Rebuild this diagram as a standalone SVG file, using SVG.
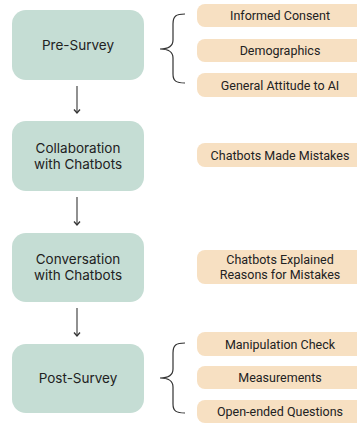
<svg xmlns="http://www.w3.org/2000/svg" width="357" height="425" viewBox="0 0 357 425">
<defs>
<style>
.step{fill:#c5ddd4}
.item{fill:#f7e0c2}
.st{font-family:Inter,"Liberation Sans",sans-serif;font-size:13.5px;fill:#222;text-anchor:middle}
.it{font-family:Roboto,"Liberation Sans",sans-serif;font-size:12.5px;fill:#222;text-anchor:middle}
.arr{stroke:#555;stroke-width:1.3;fill:none}
.brace{stroke:#333;stroke-width:1.2;fill:none}
</style>
<marker id="ah" markerWidth="8" markerHeight="8" refX="6" refY="4" orient="auto" markerUnits="userSpaceOnUse" viewBox="0 0 8 8">
<path d="M2.5,1 L6,4 L2.5,7" stroke="#333" stroke-width="1.3" fill="none"/>
</marker>
</defs>
<rect width="357" height="425" fill="#ffffff"/>
<g id="connectors">
<line class="arr" x1="77" y1="86" x2="77" y2="113" marker-end="url(#ah)"/>
<line class="arr" x1="77" y1="197" x2="77" y2="225" marker-end="url(#ah)"/>
<line class="arr" x1="77" y1="308" x2="77" y2="336" marker-end="url(#ah)"/>
</g>
<g id="pre-survey">
<rect class="step" x="12" y="10" width="132" height="70" rx="14"/>
<text class="st" x="78" y="50">Pre-Survey</text>
</g>
<g id="collaboration">
<rect class="step" x="12" y="121" width="132" height="70" rx="14"/>
<text class="st" x="78" y="153">Collaboration</text>
<text class="st" x="78" y="169">with Chatbots</text>
</g>
<g id="conversation">
<rect class="step" x="12" y="233" width="132" height="69" rx="14"/>
<text class="st" x="78" y="264">Conversation</text>
<text class="st" x="78" y="280">with Chatbots</text>
</g>
<g id="post-survey">
<rect class="step" x="12" y="344" width="132" height="69" rx="14"/>
<text class="st" x="78" y="383">Post-Survey</text>
</g>
<g id="pre-brace">
<path class="brace" d="M185,14 C176,14 173,16 173,24 L173,40 C173,46 168,49 160,49 C168,49 173,52 173,58 L173,74 C173,81 176,83 185,83"/>
</g>
<g id="post-brace">
<path class="brace" d="M185,343 C176,343 173,345 173,353 L173,369 C173,375 168,378 160,378 C168,378 173,381 173,387 L173,404 C173,411 176,413 185,413"/>
</g>
<g id="informed-consent">
<rect class="item" x="197" y="4" width="175" height="23" rx="8"/>
<text class="it" x="280" y="20">Informed Consent</text>
</g>
<g id="demographics">
<rect class="item" x="197" y="39" width="175" height="23" rx="8"/>
<text class="it" x="280" y="55">Demographics</text>
</g>
<g id="general-attitude">
<rect class="item" x="197" y="73" width="175" height="24" rx="8"/>
<text class="it" x="280" y="89.5">General Attitude to AI</text>
</g>
<g id="made-mistakes">
<rect class="item" x="197" y="143" width="175" height="24" rx="8"/>
<text class="it" x="280" y="159.5">Chatbots Made Mistakes</text>
</g>
<g id="explained-reasons">
<rect class="item" x="197" y="250" width="175" height="34" rx="8"/>
<text class="it" x="280" y="264">Chatbots Explained</text>
<text class="it" x="280" y="279">Reasons for Mistakes</text>
</g>
<g id="manipulation-check">
<rect class="item" x="197" y="332" width="175" height="24" rx="8"/>
<text class="it" x="280" y="348.5">Manipulation Check</text>
</g>
<g id="measurements">
<rect class="item" x="197" y="366" width="175" height="23" rx="8"/>
<text class="it" x="280" y="382">Measurements</text>
</g>
<g id="open-ended">
<rect class="item" x="197" y="400" width="175" height="23" rx="8"/>
<text class="it" x="280" y="416">Open-ended Questions</text>
</g>
</svg>
